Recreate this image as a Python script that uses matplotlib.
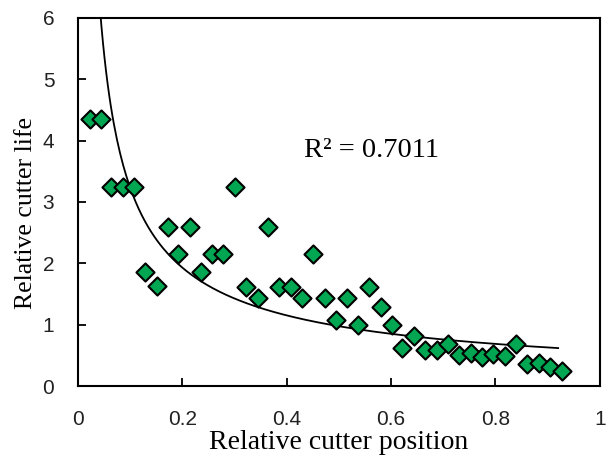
import numpy as np
import matplotlib.pyplot as plt

# relative cutter position / relative cutter life
position = [0.023, 0.044, 0.063, 0.086, 0.107, 0.128, 0.151, 0.172, 0.192, 0.215,
            0.236, 0.257, 0.278, 0.301, 0.322, 0.345, 0.364, 0.385, 0.408, 0.429,
            0.450, 0.473, 0.494, 0.515, 0.536, 0.557, 0.580, 0.602, 0.621, 0.644,
            0.665, 0.688, 0.709, 0.730, 0.753, 0.774, 0.795, 0.818, 0.839, 0.860,
            0.883, 0.904, 0.927]
life = [4.35, 4.35, 3.25, 3.25, 3.25, 1.86, 1.63, 2.60, 2.16, 2.60,
        1.86, 2.16, 2.16, 3.25, 1.62, 1.44, 2.60, 1.62, 1.62, 1.44,
        2.16, 1.44, 1.08, 1.44, 1.00, 1.62, 1.29, 1.00, 0.62, 0.82,
        0.59, 0.59, 0.69, 0.51, 0.54, 0.47, 0.52, 0.49, 0.69, 0.36,
        0.38, 0.31, 0.25]

# power trendline y = a * x^b as drawn
coef_a = 0.583
coef_b = -0.744
r2_text = 'R² = 0.7011'

fig = plt.figure(figsize=(6.14, 4.57), dpi=100)
ax = fig.add_axes([0.127, 0.155, 0.850, 0.806])

xt = np.linspace(0.03, 0.92, 300)
ax.plot(xt, coef_a * xt ** coef_b, color='black', lw=1.3, zorder=2)
ax.scatter(position, life, marker='D', s=85, color='#00a651',
           edgecolors='black', linewidths=1.5, zorder=3)

ax.set_xlim(0, 1)
ax.set_ylim(0, 6)
ax.set_xticks([0, 0.2, 0.4, 0.6, 0.8, 1])
ax.set_xticklabels(['0', '0.2', '0.4', '0.6', '0.8', '1'])
ax.set_yticks(range(7))
ax.tick_params(direction='in', length=6, width=1.3, labelsize=15, pad=17)
for lab in ax.get_xticklabels() + ax.get_yticklabels():
    lab.set_family('Liberation Sans')
    lab.set_color('#222222')
for s in ax.spines.values():
    s.set_linewidth(1.5)

ax.set_xlabel('Relative cutter position', family='Liberation Serif', fontsize=20, labelpad=1)
ax.set_ylabel('Relative cutter life', family='Liberation Serif', fontsize=18.5)
ax.yaxis.set_label_coords(-0.079, 0.47)
ax.text(0.433, 3.73, r2_text, family='Liberation Serif', fontsize=20.5)

fig.savefig('out.png', dpi=100)
